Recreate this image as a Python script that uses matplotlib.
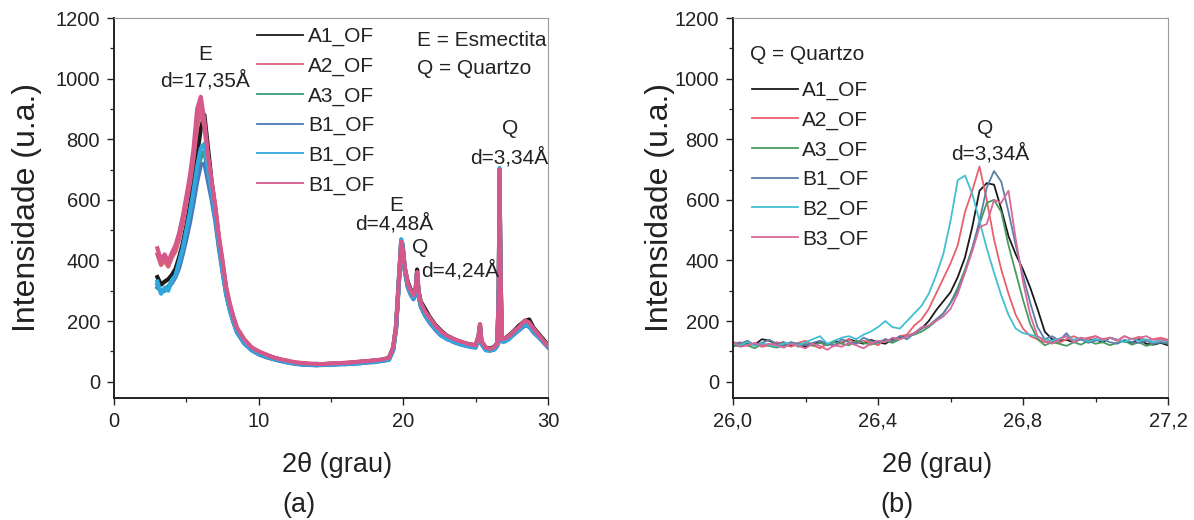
import numpy as np
import matplotlib
matplotlib.use("Agg")
import matplotlib.pyplot as plt
from matplotlib.ticker import MultipleLocator, FixedLocator, FuncFormatter

REG = ['Liberation Sans', 'DejaVu Sans']
plt.rcParams['font.family'] = REG

# ---------------- panel (a) data ----------------
x_a = [3.0, 3.25, 3.5, 3.75, 4.0, 4.25, 4.5, 4.75, 5.0, 5.25, 5.5, 5.75, 6.0, 6.25, 6.5, 6.75, 7.0, 7.25, 7.5, 7.75, 8.0, 8.25,
       8.5, 9.0, 9.5, 10.0, 10.5, 11.0, 11.5, 12.0, 12.5, 13.0, 13.5, 14.0, 14.5, 15.0, 15.5, 16.0, 16.5, 17.0, 17.5, 18.0, 18.5, 19.0,
       19.3, 19.5, 19.7, 19.85, 19.95, 20.1, 20.3, 20.5, 20.7, 20.85, 20.95, 21.05, 21.2, 21.5, 21.8,
       22.2, 22.6, 23.0, 23.5, 24.0, 24.5, 25.0,
       25.2, 25.3, 25.4, 25.7, 26.0, 26.3, 26.5, 26.6, 26.65, 26.7, 26.8,
       27.0, 27.3, 27.7, 28.0, 28.4, 28.7, 29.0, 29.4, 29.7, 30.0]

a1_a = [345, 320, 330, 338, 352, 372, 410, 455, 515, 580, 660, 750, 835, 880, 770, 660, 570, 470, 385, 305, 250, 210,
        172, 134, 110, 96, 88, 80, 73, 67, 63, 60, 58, 57, 58, 59, 60, 61, 63, 65, 67, 70, 72, 78,
        112, 185, 345, 455, 445, 375, 330, 305, 290, 305, 370, 300, 265, 240, 215,
        188, 168, 152, 140, 130, 124, 120,
        150, 188, 132, 112, 110, 115, 128, 310, 700, 430, 142,
        142, 152, 170, 185, 200, 205, 178, 155, 138, 120]
a2_a = [420, 385, 400, 380, 410, 430, 470, 520, 590, 655, 740, 840, 900, 840, 735, 655, 575, 470, 395, 310, 255, 212,
        175, 138, 112, 98, 86, 79, 70, 68, 61, 62, 57, 59, 56, 60, 58, 62, 61, 66, 65, 70, 71, 77,
        112, 182, 335, 460, 430, 372, 318, 300, 278, 298, 355, 292, 258, 226, 210,
        182, 158, 150, 135, 130, 120, 120,
        148, 180, 128, 108, 106, 110, 122, 290, 690, 415, 138,
        140, 148, 168, 175, 198, 188, 172, 150, 130, 116]
a3_a = [310, 300, 305, 315, 330, 350, 385, 430, 480, 540, 610, 690, 740, 760, 690, 620, 545, 450, 370, 292, 240, 200,
        165, 128, 105, 92, 82, 76, 70, 64, 60, 58, 56, 55, 56, 56, 58, 59, 60, 62, 64, 66, 69, 73,
        105, 175, 330, 440, 450, 365, 315, 290, 275, 292, 350, 285, 250, 220, 198,
        175, 155, 145, 132, 124, 118, 114,
        145, 178, 126, 106, 104, 108, 120, 295, 685, 410, 135,
        135, 145, 160, 172, 188, 185, 165, 146, 132, 115]
b1_a = [320, 295, 300, 310, 325, 345, 375, 420, 470, 525, 590, 660, 715, 720, 660, 600, 530, 440, 362, 288, 236, 196,
        162, 126, 104, 90, 81, 74, 68, 63, 59, 56, 55, 54, 55, 55, 57, 58, 59, 61, 63, 65, 68, 72,
        104, 176, 335, 445, 455, 368, 312, 288, 272, 290, 352, 283, 248, 218, 196,
        172, 152, 142, 130, 122, 116, 112,
        142, 176, 124, 104, 102, 106, 118, 300, 695, 412, 132,
        132, 142, 158, 170, 185, 183, 162, 144, 130, 113]
b2_a = [330, 290, 310, 300, 335, 350, 395, 440, 500, 560, 630, 710, 770, 785, 700, 625, 550, 455, 370, 290, 238, 198,
        166, 130, 106, 93, 84, 75, 71, 63, 61, 57, 57, 54, 57, 55, 59, 57, 61, 60, 65, 64, 70, 72,
        106, 178, 340, 470, 450, 370, 316, 292, 276, 294, 358, 286, 252, 222, 200,
        176, 155, 140, 133, 122, 118, 114,
        146, 182, 126, 104, 103, 107, 120, 305, 705, 418, 134,
        134, 140, 162, 170, 190, 180, 166, 145, 128, 114]
b3_a = [440, 400, 420, 395, 425, 450, 490, 545, 610, 680, 770, 900, 940, 860, 745, 660, 580, 480, 400, 312, 258, 215,
        178, 140, 114, 100, 90, 80, 74, 69, 64, 61, 60, 58, 58, 60, 61, 62, 64, 66, 68, 70, 73, 78,
        114, 186, 342, 462, 440, 378, 325, 302, 285, 302, 362, 295, 262, 232, 212,
        186, 165, 152, 140, 132, 124, 120,
        152, 190, 134, 112, 108, 114, 126, 300, 700, 425, 140,
        142, 150, 168, 180, 202, 195, 175, 152, 134, 118]
labels_a = ['A1_OF', 'A2_OF', 'A3_OF', 'B1_OF', 'B1_OF', 'B1_OF']
colors_a = ['#1a1a1a', '#d8607a', '#3f9c78', '#4a78b8', '#2fa8e0', '#d4588a']

# ---------------- panel (b) data ----------------
x_b = [26.00, 26.02, 26.04, 26.06, 26.08, 26.10, 26.12, 26.14, 26.16, 26.18,
       26.20, 26.22, 26.24, 26.26, 26.28, 26.30, 26.32, 26.34, 26.36, 26.38,
       26.40, 26.42, 26.44, 26.46, 26.48, 26.50, 26.52, 26.54, 26.56, 26.58,
       26.60, 26.62, 26.64, 26.66, 26.68, 26.70, 26.72, 26.74, 26.76, 26.78,
       26.80, 26.82, 26.84, 26.86, 26.88, 26.90, 26.92, 26.94, 26.96, 26.98,
       27.00, 27.02, 27.04, 27.06, 27.08, 27.10, 27.12, 27.14, 27.16, 27.18,
       27.20]
a1_b = [120, 118, 128, 122, 140, 135, 125, 130, 118, 122,
        115, 125, 130, 120, 135, 128, 140, 132, 125, 138,
        130, 125, 140, 145, 150, 160, 175, 200, 235, 265,
        295, 345, 410, 510, 630, 655, 650, 570, 480, 420,
        370, 310, 240, 165, 140, 135, 138, 130, 142, 135,
        140, 130, 145, 138, 132, 128, 140, 125, 122, 128,
        120]
a2_b = [125, 130, 118, 125, 115, 120, 130, 125, 115, 128,
        135, 120, 110, 125, 118, 130, 140, 125, 135, 130,
        120, 140, 130, 150, 155, 185, 205, 240, 290, 340,
        390, 450, 560, 630, 710, 600, 470, 370, 290, 220,
        175, 150, 140, 130, 135, 128, 140, 150, 138, 145,
        150, 140, 145, 135, 150, 140, 148, 135, 140, 145,
        138]
a3_b = [115, 125, 120, 110, 125, 118, 112, 120, 130, 115,
        125, 118, 128, 120, 130, 125, 120, 135, 128, 122,
        130, 135, 128, 140, 150, 155, 165, 180, 200, 225,
        260, 310, 370, 440, 520, 590, 600, 560, 450, 360,
        270, 190, 140, 120, 130, 125, 118, 130, 122, 135,
        125, 130, 120, 128, 135, 122, 130, 118, 125, 130,
        125]
b1_b = [130, 125, 135, 120, 128, 138, 125, 118, 130, 125,
        120, 128, 135, 125, 120, 140, 130, 125, 145, 135,
        128, 140, 135, 150, 140, 160, 175, 185, 205, 225,
        260, 300, 360, 440, 530, 640, 695, 660, 560, 450,
        350, 260, 180, 140, 150, 135, 160, 130, 140, 128,
        135, 140, 130, 125, 138, 130, 128, 135, 125, 130,
        128]
b2_b = [125, 120, 130, 118, 125, 122, 115, 128, 125, 120,
        130, 140, 150, 125, 135, 145, 150, 140, 155, 165,
        180, 200, 180, 175, 200, 225, 250, 290, 350, 420,
        530, 665, 680, 620, 530, 440, 360, 285, 220, 175,
        160, 155, 148, 140, 135, 142, 150, 138, 145, 132,
        140, 135, 145, 138, 130, 142, 135, 140, 130, 138,
        132]
b3_b = [130, 115, 120, 128, 118, 125, 120, 112, 125, 118,
        110, 125, 118, 105, 120, 115, 128, 120, 110, 125,
        135, 130, 145, 140, 150, 160, 180, 185, 200, 215,
        240, 290, 360, 430, 510, 520, 600, 590, 630, 470,
        330, 220, 150, 135, 125, 140, 150, 130, 145, 140,
        150, 138, 145, 135, 150, 140, 145, 150, 138, 140,
        135]
labels_b = ['A1_OF', 'A2_OF', 'A3_OF', 'B1_OF', 'B2_OF', 'B3_OF']
colors_b = ['#1a1a1a', '#e8606a', '#4a9a60', '#5a7ea8', '#40c0d0', '#d8689a']

fig = plt.figure(figsize=(11.94, 5.20), dpi=100)
W, H = 1194, 520
ax_a = fig.add_axes([114 / W, 1 - 398 / H, 434 / W, 380 / H])
ax_b = fig.add_axes([733 / W, 1 - 398 / H, 435 / W, 380 / H])

for ys, lab, c in zip([a1_a, a2_a, a3_a, b1_a, b2_a, b3_a], labels_a, colors_a):
    ax_a.plot(x_a, ys, color=c, lw=3.0, label=lab)
for ys, lab, c in zip([a1_b, a2_b, a3_b, b1_b, b2_b, b3_b], labels_b, colors_b):
    ax_b.plot(x_b, ys, color=c, lw=1.3, label=lab)


def style(ax):
    ax.set_ylim(-54, 1200)
    ax.yaxis.set_major_locator(MultipleLocator(200))
    ax.yaxis.set_minor_locator(MultipleLocator(100))
    ax.tick_params(which='major', direction='out', length=5, width=1.0, labelsize=14.5, pad=5, color='#222',
                   labelcolor='#222')
    ax.tick_params(which='minor', direction='out', length=3, width=0.9, color='#222')
    ax.tick_params(top=False, right=False, which='both')
    for s in ['left', 'bottom']:
        ax.spines[s].set_linewidth(1.4)
        ax.spines[s].set_color('#222')
    for s in ['top', 'right']:
        ax.spines[s].set_linewidth(0.8)
        ax.spines[s].set_color('#9a9a9a')
    ax.set_ylabel('Intensidade (u.a.)', fontsize=23, color='#222', va='center')
    ax.set_xlabel('2θ (grau)', fontsize=19.5, color='#222', ha='left', va='center')


style(ax_a)
style(ax_b)

ax_a.set_xlim(0, 30)
ax_a.xaxis.set_major_locator(FixedLocator([0, 10, 20, 30]))
ax_a.xaxis.set_minor_locator(FixedLocator([5, 15, 25]))
ax_b.set_xlim(26.0, 27.2)
ax_b.xaxis.set_major_locator(FixedLocator([26.0, 26.4, 26.8, 27.2]))
ax_b.xaxis.set_minor_locator(FixedLocator([26.2, 26.6, 27.0]))
ax_b.xaxis.set_major_formatter(FuncFormatter(lambda v, p: f"{v:.1f}".replace('.', ',')))

ax_a.yaxis.set_label_coords((27 - 114) / 434, 0.5)
ax_b.yaxis.set_label_coords((660 - 733) / 435, 0.5)
ax_a.xaxis.set_label_coords((282 - 114) / 434, -(465 - 398) / 380)
ax_b.xaxis.set_label_coords((882 - 733) / 435, -(465 - 398) / 380)

fig.text(282 / W, 1 - 505 / H, '(a)', fontsize=19.5, ha='left', va='center', color='#222')
fig.text(880 / W, 1 - 505 / H, '(b)', fontsize=19.5, ha='left', va='center', color='#222')

leg_a = ax_a.legend(loc='upper left', bbox_to_anchor=((257 - 114) / 434, (398 - 27) / 380), frameon=False,
                    fontsize=15, handlelength=2.2, handletextpad=0.25, labelspacing=0.5, borderpad=0, borderaxespad=0)
leg_b = ax_b.legend(loc='upper left', bbox_to_anchor=((752 - 733) / 435, (398 - 81) / 380), frameon=False,
                    fontsize=15, handlelength=2.2, handletextpad=0.2, labelspacing=0.5, borderpad=0, borderaxespad=0)
for leg in (leg_a, leg_b):
    for t in leg.get_texts():
        t.set_color('#222')
    for l in leg.get_lines():
        l.set_linewidth(1.3)

ax_a.text((417 - 114) / 434, (398 - 40) / 380, 'E = Esmectita', transform=ax_a.transAxes, fontsize=15, va='center', color='#222')
ax_a.text((417 - 114) / 434, (398 - 68) / 380, 'Q = Quartzo', transform=ax_a.transAxes, fontsize=15, va='center', color='#222')
ax_b.text((750 - 733) / 435, (398 - 55) / 380, 'Q = Quartzo', transform=ax_b.transAxes, fontsize=15, va='center', color='#222')

ann = dict(fontsize=15, ha='center', va='center', color='#222')
ax_a.text(6.3, 1078, 'E', **ann)
ax_a.text(6.3, 995, 'd=17,35Å', **ann)
ax_a.text(19.5, 582, 'E', **ann)
ax_a.text(19.4, 522, 'd=4,48Å', **ann)
ax_a.text(21.15, 443, 'Q', **ann)
ax_a.text(23.9, 367, 'd=4,24Å', **ann)
ax_a.text(27.4, 836, 'Q', **ann)
ax_a.text(27.3, 740, 'd=3,34Å', **ann)
ax_b.text(26.695, 836, 'Q', **ann)
ax_b.text(26.71, 754, 'd=3,34Å', **ann)

fig.savefig('out.png', dpi=100, facecolor='white')
